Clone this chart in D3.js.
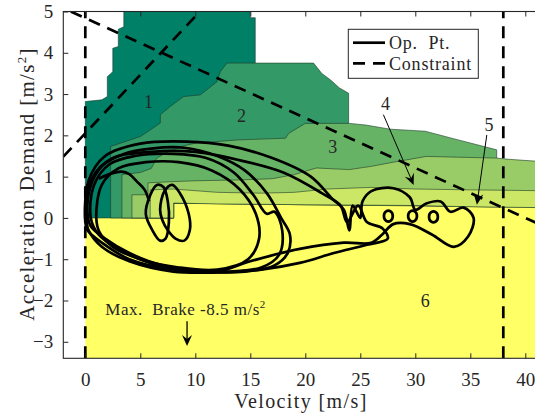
<!DOCTYPE html>
<html>
<head>
<meta charset="utf-8">
<script src="https://cdn.jsdelivr.net/npm/d3@7"></script>
<style>
  body { margin: 0; background: #fff; }
  svg text { font-family: "Liberation Serif", "DejaVu Serif", serif !important; fill: #262626; }
</style>
</head>
<body>
<svg id="chart" width="535" height="415"></svg>
<script>
// ---- axis ticks ----
const xTicks = [0, 5, 10, 15, 20, 25, 30, 35, 40];
const yTicks = [-3, -2, -1, 0, 1, 2, 3, 4, 5];

// ---- operating regions (velocity m/s, acceleration m/s^2), region 1 .. 6 ----
const regionLabels = ["1", "2", "3", "4", "5", "6"];
const regionColors = ["#008066", "#339966", "#66b366", "#99cc66", "#cce666", "#ffff66"];

const region6 = [[0,-3.4],[41.2,-3.4],[41.2,0.3],[8.03,0.4],[8.03,0],[0,0]];
const region1 = [[0,0],[0,2.82],[1.5,2.86],[2.0,2.94],[2.0,3.42],[2.5,3.54],[2.5,4.11],[3.0,4.15],
  [3.0,4.57],[3.5,4.63],[3.5,5.0],[15.0,5.0],[15.0,4.85],[15.45,4.85],[15.45,0.34],[8.03,0.36],[8.03,0]];
const region2 = [[2.3,0],[2.3,1.73],[4.09,1.89],[5.0,1.97],[5.91,2.13],[6.82,2.3],[6.82,2.5],[7.73,2.7],
  [8.94,2.94],[10.45,2.98],[11.97,3.3],[12.27,3.54],[12.88,3.75],[20.75,3.75],[21.5,3.5],[22.3,3.34],
  [23.1,3.15],[23.94,3.02],[23.94,0.32],[8.03,0.36],[8.03,0]];
const region3 = [[3.33,0],[3.33,1.05],[5.0,1.1],[6.0,1.2],[6.5,1.45],[7.5,1.6],[9.0,1.75],[10.0,1.81],
  [13.9,1.89],[18.2,1.93],[18.5,2.05],[20.0,2.29],[24.0,2.29],[25.5,2.25],[27.7,2.15],[30.9,2.1],
  [33.9,1.89],[37.4,1.65],[37.4,0.27],[20,0.32],[8.03,0.36],[8.03,0]];
const region4 = [[4.24,0],[4.24,0.56],[5.7,0.56],[5.7,0.85],[8.0,0.88],[10.0,0.9],[14.0,0.92],[17.0,0.95],
  [19.0,1.05],[21.0,1.21],[24.0,1.17],[26.0,1.25],[28.0,1.35],[31.0,1.49],[34.0,1.47],[37.4,1.45],
  [38.5,1.42],[41.2,1.37],[41.2,0.25],[30,0.3],[20,0.32],[8.03,0.36],[8.03,0]];
const region5 = [[5.9,0],[5.9,0.68],[8.0,0.7],[12.0,0.62],[16.0,0.6],[19.0,0.62],[22.0,0.7],[26.0,0.74],
  [30.0,0.7],[35.0,0.68],[41.2,0.66],[41.2,0.25],[35,0.27],[30,0.3],[20,0.32],[12,0.34],[8.03,0.36],[8.03,0]];

// ---- operating point trajectory, sampled loops ----
const loopA = [[0.2,0.1],[0.4,0.7],[1.5,1.25],[3.5,1.55],[6,1.68],[9,1.7],[12,1.5],[14.5,1.15],[16.5,0.6],
  [17.8,0.0],[18.6,-0.4],[18.4,-0.85],[17.2,-1.15],[14.5,-1.3],[11,-1.3],[7,-1.15],[4,-0.85],[1.8,-0.5],[0.5,-0.2]];
const loopB = [[0.5,0.0],[0.8,0.8],[2.2,1.3],[4.5,1.5],[8,1.55],[11,1.45],[13.5,1.1],[15.3,0.55],[16.5,0.1],
  [17.2,0.15],[17.9,-0.3],[17.6,-0.9],[16,-1.2],[13,-1.3],[9.5,-1.28],[6,-1.1],[3,-0.75],[1.2,-0.4]];
const loopC = [[1.0,0.0],[1.5,0.8],[3,1.2],[5.5,1.35],[8.5,1.35],[11.5,1.15],[14,0.7],[15.5,0.1],[15.8,-0.5],
  [14.8,-1.0],[12,-1.25],[8.5,-1.2],[5,-1.0],[2.5,-0.7],[1.3,-0.35]];
const loopD = [[0.0,-0.1],[0.3,0.9],[1.8,1.5],[5,1.8],[9.2,1.85],[13,1.75],[17,1.45],[20.5,1.0],[22.5,0.45],
  [23.5,0.2],[24,-0.3],[24.3,0.3],[25,0.0],[25.2,0.4],[26,0.65],[28,0.72],[29.5,0.5],[30,0.2],[31,0.35],
  [32.3,0.4],[33.2,0.15],[34.4,0.25],[35.3,0.0],[34.8,-0.45],[33.5,-0.7],[31.5,-0.4],[29.5,-0.15],[28,-0.15],
  [27,-0.4],[26,-0.6],[23.5,-0.6],[19.5,-0.75],[15,-1.05],[12,-1.3],[8,-1.25],[4,-1.0],[1.5,-0.6],[0.2,-0.3]];
const loopE = [[0.1,0.0],[0.6,0.95],[2.5,1.45],[6,1.6],[10,1.6],[14,1.4],[18,1.1],[21.5,0.6],[23.2,0.3],
  [23.8,-0.1],[24.8,0.3],[25.6,-0.1],[27,-0.25],[27.5,-0.5],[25.6,-0.65],[22.6,-0.85],[19.5,-1.09],[16,-1.25],
  [12,-1.32],[8,-1.3],[4,-1.05],[1.5,-0.7],[0.3,-0.3]];
const loopF = [[5.5,0.1],[5.9,0.55],[6.5,0.8],[7.1,0.75],[7.5,0.4],[7.6,-0.1],[7.3,-0.5],[6.8,-0.55],[6.1,-0.3]];
const loopG = [[6.8,0.2],[7.2,0.65],[7.9,0.8],[8.6,0.6],[9.4,0.1],[9.5,-0.3],[9.0,-0.55],[8.2,-0.5],[7.5,-0.3],[7.0,-0.05]];
const entryPath = [[1.2,0.95],[2.4,1.08],[3.3,1.12],[4.0,1.06],[4.7,0.88],[5.4,0.68],[5.8,0.4]];
const smallLoops = [
  [[27.15,0.05],[27.35,0.16],[27.75,0.16],[27.95,0.05],[27.75,-0.07],[27.35,-0.07]],
  [[29.35,0.05],[29.55,0.16],[29.95,0.16],[30.15,0.05],[29.95,-0.07],[29.55,-0.07]],
  [[31.25,0.03],[31.45,0.14],[31.85,0.14],[32.05,0.03],[31.85,-0.09],[31.45,-0.09]]
];

// ---- constraint lines ----
const constraints = [
  [[0,-3.4],[0,5]],
  [[38,-3.4],[38,5]],
  [[-2,1.484],[10.42,5]],
  [[-1.32,5],[41.2,-0.145]]
];

// ---- layout ----
const FONT = "Liberation Serif";
const DASH = "12,8";
const svg = d3.select("#chart");
const x = d3.scaleLinear().domain([-2, 41.2]).range([63.3, 538.5]);
const y = d3.scaleLinear().domain([-3.4, 5]).range([358.3, 11.5]);

svg.append("defs").append("clipPath").attr("id", "plot")
  .append("rect").attr("x", 63.3).attr("y", 11.5).attr("width", 538.5 - 63.3).attr("height", 358.3 - 11.5);

const plot = svg.append("g").attr("clip-path", "url(#plot)");
const poly = pts => "M" + pts.map(p => x(p[0]) + "," + y(p[1])).join("L") + "Z";

plot.append("path").attr("d", poly(region6)).attr("fill", regionColors[5]);
[region1, region2, region3, region4, region5].forEach((r, i) => {
  plot.append("path").attr("d", poly(r))
    .attr("fill", regionColors[i])
    .attr("stroke", "#1f3a2a").attr("stroke-opacity", 0.75).attr("stroke-width", 0.8);
});

// trajectory
const closed = d3.line().x(d => x(d[0])).y(d => y(d[1])).curve(d3.curveCatmullRomClosed.alpha(0.5));
const open = d3.line().x(d => x(d[0])).y(d => y(d[1])).curve(d3.curveCatmullRom.alpha(0.5));
[loopA, loopB, loopC, loopD, loopE, loopF, loopG, ...smallLoops].forEach(l => {
  plot.append("path").attr("d", closed(l)).attr("fill", "none")
    .attr("stroke", "#000").attr("stroke-width", 2.7).attr("stroke-linejoin", "round");
});
plot.append("path").attr("d", open(entryPath)).attr("fill", "none")
  .attr("stroke", "#000").attr("stroke-width", 2.7);

// constraints
constraints.forEach(c => {
  plot.append("line")
    .attr("x1", x(c[0][0])).attr("y1", y(c[0][1]))
    .attr("x2", x(c[1][0])).attr("y2", y(c[1][1]))
    .attr("stroke", "#000").attr("stroke-width", 2.7).attr("stroke-dasharray", DASH);
});

// region labels
const labelPos = [[5.75,2.8],[14.2,2.47],[22.5,1.71],[27.3,2.76],[36.7,2.25],[30.9,-2.0]];
regionLabels.forEach((t, i) => {
  svg.append("text").attr("x", x(labelPos[i][0])).attr("y", y(labelPos[i][1]) + 6)
    .attr("text-anchor", "middle").attr("font-family", FONT).attr("font-size", 18).text(t);
});

// annotation arrows
function arrow(x1, y1, x2, y2, w) {
  const X1 = x(x1), Y1 = y(y1), X2 = x(x2), Y2 = y(y2);
  const ang = Math.atan2(Y2 - Y1, X2 - X1);
  const L = 11, H = 5, back = 7;
  const ux = Math.cos(ang), uy = Math.sin(ang), nx = -uy, ny = ux;
  svg.append("line").attr("x1", X1).attr("y1", Y1)
    .attr("x2", X2 - ux * back).attr("y2", Y2 - uy * back)
    .attr("stroke", "#000").attr("stroke-width", w);
  const pts = [
    [X2, Y2],
    [X2 - ux * L + nx * H, Y2 - uy * L + ny * H],
    [X2 - ux * back, Y2 - uy * back],
    [X2 - ux * L - nx * H, Y2 - uy * L - ny * H]
  ];
  svg.append("path").attr("d", "M" + pts.map(p => p.join(",")).join("L") + "Z").attr("fill", "#000");
}
arrow(27.1, 2.5, 29.85, 0.80, 1);
arrow(36.5, 2.01, 35.6, 0.32, 1);
arrow(9.25, -2.5, 9.25, -3.1, 1.3);

// max brake note
const mb = svg.append("text").attr("x", x(1.82)).attr("y", y(-2.34)).attr("font-family", FONT)
  .attr("font-size", 17).attr("letter-spacing", 0.5);
mb.append("tspan").text("Max.\u00a0 Brake -8.5 m/s");
mb.append("tspan").attr("dy", -7).attr("font-size", 11).text("2");

// ---- axes ----
const axG = svg.append("g");
axG.append("rect").attr("x", 63.3).attr("y", 11.5).attr("width", 538.5 - 63.3).attr("height", 358.3 - 11.5)
  .attr("fill", "none").attr("stroke", "#262626").attr("stroke-width", 1.1);

const xb = axG.append("g").attr("transform", "translate(0,358.3)")
  .call(d3.axisBottom(x).tickValues(xTicks).tickSizeInner(-5).tickSizeOuter(0).tickPadding(14));
const xt = axG.append("g").attr("transform", "translate(0,11.5)")
  .call(d3.axisTop(x).tickValues(xTicks).tickSizeInner(-5).tickSizeOuter(0).tickFormat(""));
const yl = axG.append("g").attr("transform", "translate(63.3,0)")
  .call(d3.axisLeft(y).tickValues(yTicks).tickSizeInner(-5).tickSizeOuter(0).tickPadding(10));
[xb, xt, yl].forEach(g => {
  g.attr("font-family", FONT).attr("font-size", 19);
  g.select(".domain").remove();
  g.selectAll(".tick line").attr("stroke", "#262626").attr("stroke-width", 1);
  g.selectAll("text").attr("fill", "#262626");
});

// axis titles
svg.append("text").attr("x", 301).attr("y", 408).attr("text-anchor", "middle").attr("font-family", FONT)
  .attr("font-size", 20).attr("letter-spacing", 1.4).text("Velocity [m/s]");
const yt = svg.append("text").attr("transform", "translate(33.5,184) rotate(-90)").attr("font-family", FONT)
  .attr("text-anchor", "middle").attr("font-size", 21).attr("letter-spacing", 1.3);
yt.append("tspan").text("Acceleration Demand [m/s");
yt.append("tspan").attr("dy", -8).attr("font-size", 13).text("2");
yt.append("tspan").attr("dy", 8).text("]");

// ---- legend ----
const lg = svg.append("g");
lg.append("rect").attr("x", 348.3).attr("y", 29.3).attr("width", 130).attr("height", 49)
  .attr("fill", "#fff").attr("stroke", "#262626").attr("stroke-width", 1);
lg.append("line").attr("x1", 353).attr("x2", 385).attr("y1", 42.7).attr("y2", 42.7)
  .attr("stroke", "#000").attr("stroke-width", 2.7);
lg.append("line").attr("x1", 353).attr("x2", 385).attr("y1", 63.3).attr("y2", 63.3)
  .attr("stroke", "#000").attr("stroke-width", 2.7).attr("stroke-dasharray", DASH);
lg.append("text").attr("x", 389).attr("y", 48.5).attr("font-family", FONT).attr("font-size", 18)
  .attr("letter-spacing", 0.8).text("Op.\u00a0 Pt.");
lg.append("text").attr("x", 389).attr("y", 69.5).attr("font-family", FONT).attr("font-size", 18)
  .attr("letter-spacing", 0.8).text("Constraint");
</script>
</body>
</html>
